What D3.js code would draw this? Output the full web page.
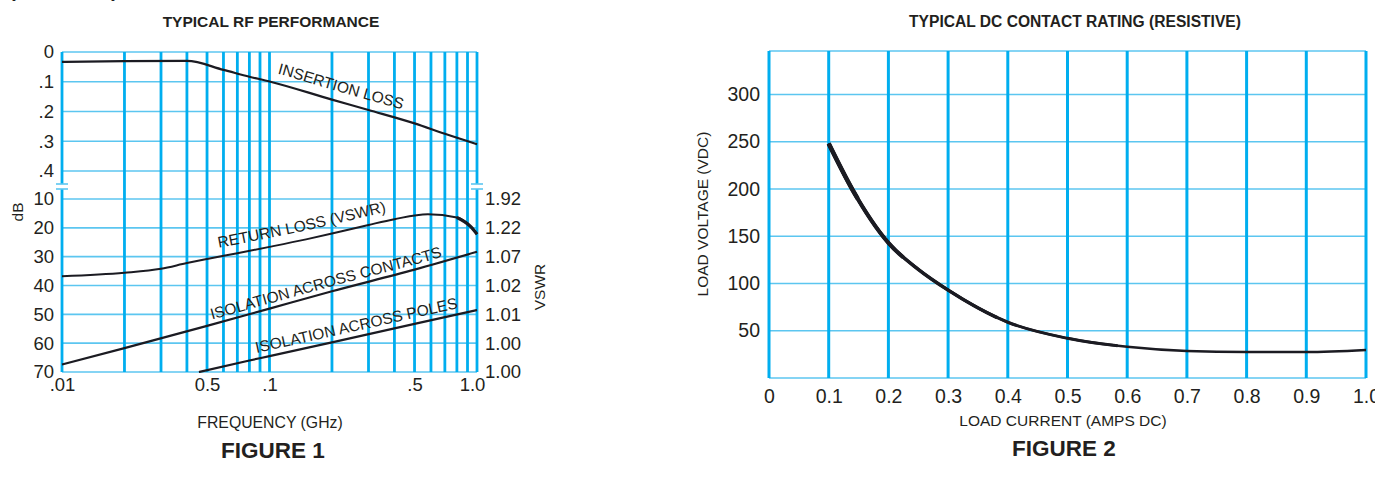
<!DOCTYPE html>
<html>
<head>
<meta charset="utf-8">
<script src="https://cdn.jsdelivr.net/npm/d3@7"></script>
<style>
  html, body { margin: 0; padding: 0; background: #fff; }
  svg { display: block; font-family: "Liberation Sans", Arial, Helvetica, sans-serif; }
</style>
</head>
<body>
<svg id="chart" width="1375" height="485"></svg>
<script>
// ---------- DATA : Figure 1 (RF performance) ----------
const freqGrid = [0.01,0.02,0.03,0.04,0.05,0.06,0.07,0.08,0.09,0.1,0.2,0.3,0.4,0.5,0.6,0.7,0.8,0.9,1.0];
const freqTickValues = [0.01, 0.05, 0.1, 0.5, 1.0];
const freqTickLabels = [".01", "0.5", ".1", ".5", "1.0"];
const insTicks = [0, 0.1, 0.2, 0.3, 0.4];
const insTickLabels = ["0", ".1", ".2", ".3", ".4"];
const dbTicks = [10, 20, 30, 40, 50, 60, 70];
const vswrLabels = ["1.92", "1.22", "1.07", "1.02", "1.01", "1.00", "1.00"];

const insertionF = [0.01, 0.02, 0.04, 0.06, 0.08, 0.1, 0.2, 0.3, 0.5, 0.7, 1.0];
const insertionDB = [0.033, 0.031, 0.030, 0.060, 0.083, 0.099, 0.160, 0.195, 0.240, 0.275, 0.310];

const returnF = [0.01, 0.02, 0.03, 0.04, 0.05, 0.07, 0.1, 0.15, 0.2, 0.3, 0.4, 0.58, 0.8, 0.93, 1.0];
const returnDB = [36.8, 35.6, 34.2, 32.2, 30.8, 28.8, 26.6, 24.0, 22.0, 19.0, 17.0, 15.3, 16.4, 19.5, 22.2];

const contactsF = [0.01, 0.02, 0.05, 0.1, 0.2, 0.5, 1.0];
const contactsDB = [67.4, 61.7, 54.0, 48.0, 42.0, 34.5, 28.3];

const polesF = [0.0457, 0.08, 0.1, 0.2, 0.5, 1.0];
const polesDB = [70.0, 66.0, 64.5, 59.7, 53.3, 48.5];

// ---------- DATA : Figure 2 (DC contact rating) ----------
const currentTicks = [0, 0.1, 0.2, 0.3, 0.4, 0.5, 0.6, 0.7, 0.8, 0.9, 1.0];
const currentLabels = ["0", "0.1", "0.2", "0.3", "0.4", "0.5", "0.6", "0.7", "0.8", "0.9", "1.0"];
const voltageTicks = [50, 100, 150, 200, 250, 300];
const dcCurrent = [0.1, 0.14, 0.2, 0.25, 0.3, 0.4, 0.5, 0.6, 0.7, 0.8, 0.9, 1.0];
const dcVoltage = [248, 199, 143, 115, 93, 59, 42, 33, 28.6, 27.5, 27.5, 29.7];

// ---------- STYLE ----------
const VBLUE = "#00aeef";
const HBLUE = "#5cc6f0";
const INK = "#1b1b22";
const TXT = "#231f20";

const svg = d3.select("#chart");

// ====================== FIGURE 1 ======================
const x1 = d3.scaleLog().domain([0.01, 1.0]).range([62, 477]);
const yTop = d3.scaleLinear().domain([0, 0.4]).range([52, 171]);
const yBot = d3.scaleLinear().domain([10, 70]).range([199, 372]);
const f1Top = yTop(0), f1Bot = yBot(70);
const breakA = 184, breakB = 189;

const g1 = svg.append("g");

// horizontal gridlines
g1.selectAll("line.ht").data(insTicks).join("line")
  .attr("x1", x1(0.01)).attr("x2", x1(1.0))
  .attr("y1", d => yTop(d)).attr("y2", d => yTop(d))
  .attr("stroke", HBLUE).attr("stroke-width", 1.6);
g1.selectAll("line.hb").data(dbTicks).join("line")
  .attr("x1", x1(0.01)).attr("x2", x1(1.0))
  .attr("y1", d => yBot(d)).attr("y2", d => yBot(d))
  .attr("stroke", HBLUE).attr("stroke-width", 1.6);

// vertical gridlines (interior)
g1.selectAll("line.v").data(freqGrid.filter(f => f > 0.01 && f < 1.0)).join("line")
  .attr("x1", d => x1(d)).attr("x2", d => x1(d))
  .attr("y1", f1Top).attr("y2", f1Bot)
  .attr("stroke", VBLUE).attr("stroke-width", 2.8);

// outer vertical lines with axis break
[0.01, 1.0].forEach(f => {
  g1.append("line").attr("x1", x1(f)).attr("x2", x1(f)).attr("y1", f1Top).attr("y2", breakA)
    .attr("stroke", VBLUE).attr("stroke-width", 2.8);
  g1.append("line").attr("x1", x1(f)).attr("x2", x1(f)).attr("y1", breakB).attr("y2", f1Bot)
    .attr("stroke", VBLUE).attr("stroke-width", 2.8);
  [breakA, breakB].forEach(yy => {
    g1.append("line").attr("x1", x1(f) - 6).attr("x2", x1(f) + 6).attr("y1", yy).attr("y2", yy)
      .attr("stroke", HBLUE).attr("stroke-width", 1.6);
  });
});

// curves
const lineTop = d3.line().x(d => x1(d[0])).y(d => yTop(d[1])).curve(d3.curveMonotoneX);
const lineBot = d3.line().x(d => x1(d[0])).y(d => yBot(d[1])).curve(d3.curveMonotoneX);
const insData = insertionF.map((f, i) => [f, insertionDB[i]]);
const retData = returnF.map((f, i) => [f, returnDB[i]]);
const conData = contactsF.map((f, i) => [f, contactsDB[i]]);
const polData = polesF.map((f, i) => [f, polesDB[i]]);

g1.append("path").attr("d", lineTop(insData)).attr("fill", "none").attr("stroke", INK).attr("stroke-width", 2.2);
g1.append("path").attr("d", lineBot(retData)).attr("fill", "none").attr("stroke", INK).attr("stroke-width", 2);
g1.append("path").attr("d", lineBot(retData.slice(-3))).attr("fill", "none").attr("stroke", INK).attr("stroke-width", 3.2);
g1.append("path").attr("d", lineBot(conData)).attr("fill", "none").attr("stroke", INK).attr("stroke-width", 2.2);
g1.append("path").attr("d", lineBot(polData)).attr("fill", "none").attr("stroke", INK).attr("stroke-width", 2.2);

// labels along curves
let pathId = 0;
const defs = svg.append("defs");
function curveLabel(data, scaleY, offset, startF, text, size) {
  const gen = d3.line().x(d => x1(d[0])).y(d => scaleY(d[1]) + offset).curve(d3.curveMonotoneX);
  const id = "lp" + (pathId++);
  const p = defs.append("path").attr("id", id).attr("d", gen(data));
  const node = p.node();
  const total = node.getTotalLength();
  const sx = x1(startF);
  let lo = 0, hi = total;
  for (let i = 0; i < 40; i++) {
    const mid = (lo + hi) / 2;
    if (node.getPointAtLength(mid).x < sx) lo = mid; else hi = mid;
  }
  g1.append("text").attr("font-size", size).attr("fill", TXT)
    .append("textPath").attr("href", "#" + id).attr("startOffset", lo).text(text);
}
curveLabel(insData, yTop, -10, 0.109, "INSERTION LOSS", 15.5);
curveLabel(retData, yBot, -9, 0.057, "RETURN LOSS (VSWR)", 15.5);
curveLabel(conData, yBot, -5, 0.0528, "ISOLATION ACROSS CONTACTS", 15.5);
curveLabel(polData, yBot, -6, 0.0867, "ISOLATION ACROSS POLES", 15.5);

// axes (labels only)
function styleAxis(sel, size) {
  sel.select(".domain").remove();
  sel.selectAll(".tick line").remove();
  sel.selectAll("text").attr("fill", TXT).attr("font-size", size)
     .attr("font-family", "Liberation Sans, Arial, sans-serif");
}
g1.append("g").attr("transform", `translate(${x1(0.01) - 6},0)`)
  .call(d3.axisLeft(yTop).tickValues(insTicks).tickSize(0).tickPadding(2)
        .tickFormat((d, i) => insTickLabels[i])).call(styleAxis, 18.5);
g1.append("g").attr("transform", `translate(${x1(0.01) - 6},0)`)
  .call(d3.axisLeft(yBot).tickValues(dbTicks).tickSize(0).tickPadding(2)).call(styleAxis, 18.5);
g1.append("g").attr("transform", `translate(${x1(1.0) + 6},0)`)
  .call(d3.axisRight(yBot).tickValues(dbTicks).tickSize(0).tickPadding(2)
        .tickFormat((d, i) => vswrLabels[i])).call(styleAxis, 18.5);
g1.append("g").attr("transform", `translate(0,${f1Bot + 3})`)
  .call(d3.axisBottom(x1).tickValues(freqTickValues).tickSize(0).tickPadding(3)
        .tickFormat((d, i) => freqTickLabels[i])).call(styleAxis, 18.5)
  .selectAll("text").attr("dx", (d, i) => i === 4 ? -5 : 0);

// titles
svg.append("text").attr("x", 271).attr("y", 27).attr("text-anchor", "middle")
  .attr("font-weight", "bold").attr("font-size", 15.5).attr("fill", TXT).text("TYPICAL RF PERFORMANCE");
svg.append("text").attr("x", 270).attr("y", 428).attr("text-anchor", "middle")
  .attr("font-size", 15.8).attr("fill", TXT).text("FREQUENCY (GHz)");
svg.append("text").attr("x", 273).attr("y", 458).attr("text-anchor", "middle")
  .attr("font-weight", "bold").attr("font-size", 22.5).attr("fill", TXT).text("FIGURE 1");
svg.append("text").attr("transform", "translate(23,212) rotate(-90)").attr("text-anchor", "middle")
  .attr("font-size", 15.5).attr("fill", TXT).text("dB");
svg.append("text").attr("transform", "translate(545,287) rotate(-90)").attr("text-anchor", "middle")
  .attr("font-size", 15.5).attr("fill", TXT).text("VSWR");
svg.append("text").attr("x", 9).attr("y", -3).attr("font-weight", "bold")
  .attr("font-size", 20).attr("fill", TXT).text("(continued)");

// ====================== FIGURE 2 ======================
const x2 = d3.scaleLinear().domain([0, 1.0]).range([769, 1366]);
const y2 = d3.scaleLinear().domain([0, 346]).range([378, 51]);
const g2 = svg.append("g");

g2.selectAll("line.h").data([0, ...voltageTicks, 346]).join("line")
  .attr("x1", x2(0)).attr("x2", x2(1.0))
  .attr("y1", d => y2(d)).attr("y2", d => y2(d))
  .attr("stroke", HBLUE).attr("stroke-width", 1.6);
g2.selectAll("line.v").data(currentTicks).join("line")
  .attr("x1", d => x2(d)).attr("x2", d => x2(d))
  .attr("y1", y2(346)).attr("y2", y2(0))
  .attr("stroke", VBLUE).attr("stroke-width", 3);

// tapering rating curve: same geometry drawn with decreasing widths over its length
const dcLine = d3.line().x(d => x2(d[0])).y(d => y2(d[1])).curve(d3.curveMonotoneX);
const dcData = dcCurrent.map((c, i) => [c, dcVoltage[i]]);
const dcPath = g2.append("path").attr("d", dcLine(dcData)).attr("fill", "none")
  .attr("stroke", INK).attr("stroke-width", 2.5);
const dcLen = dcPath.node().getTotalLength();
[[0.6, 3.0], [0.4, 3.5], [0.22, 4.0], [0.1, 4.5]].forEach(([frac, w]) => {
  g2.append("path").attr("d", dcLine(dcData)).attr("fill", "none")
    .attr("stroke", INK).attr("stroke-width", w)
    .attr("stroke-dasharray", `${dcLen * frac} ${dcLen}`);
});

g2.append("g").attr("transform", `translate(${x2(0) - 7},0)`)
  .call(d3.axisLeft(y2).tickValues(voltageTicks).tickSize(0).tickPadding(2)).call(styleAxis, 19.5);
g2.append("g").attr("transform", `translate(0,${y2(0) + 7})`)
  .call(d3.axisBottom(x2).tickValues(currentTicks).tickSize(0).tickPadding(4)
        .tickFormat((d, i) => currentLabels[i])).call(styleAxis, 19.5);

svg.append("text").attr("x", 1075).attr("y", 27).attr("text-anchor", "middle")
  .attr("font-weight", "bold").attr("font-size", 15.6).attr("fill", TXT).text("TYPICAL DC CONTACT RATING (RESISTIVE)");
svg.append("text").attr("x", 1063).attr("y", 426).attr("text-anchor", "middle")
  .attr("font-size", 15.5).attr("fill", TXT).text("LOAD CURRENT (AMPS DC)");
svg.append("text").attr("x", 1064).attr("y", 456).attr("text-anchor", "middle")
  .attr("font-weight", "bold").attr("font-size", 22.5).attr("fill", TXT).text("FIGURE 2");
svg.append("text").attr("transform", "translate(708,214) rotate(-90)").attr("text-anchor", "middle")
  .attr("font-size", 15.5).attr("fill", TXT).text("LOAD VOLTAGE (VDC)");
</script>
</body>
</html>
